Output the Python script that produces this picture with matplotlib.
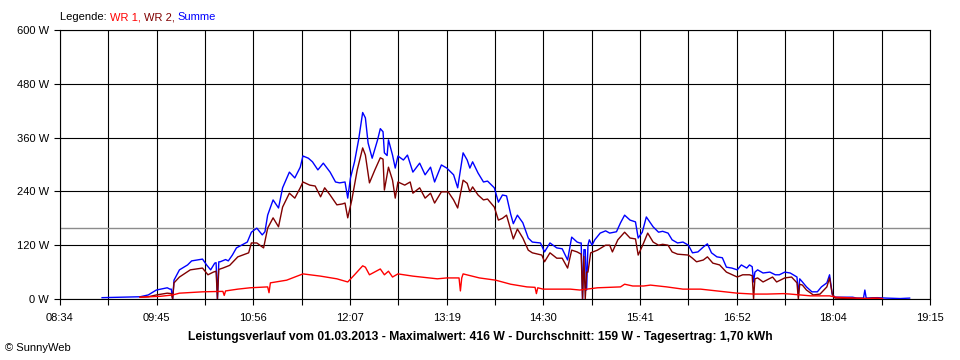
import numpy as np
import matplotlib
matplotlib.use("Agg")
import matplotlib.pyplot as plt

plt.rcParams['font.family'] = ['Liberation Sans', 'DejaVu Sans']

# Summe (blue)
summe_time = [
    "09:05", "09:18", "09:33", "09:39", "09:45", "09:53", "09:55", "09:56", "09:57", "09:58",
    "10:02", "10:08", "10:11", "10:19", "10:22", "10:25", "10:28", "10:29", "10:30", "10:31",
    "10:32", "10:36", "10:38", "10:41", "10:44", "10:52", "10:55", "10:59", "11:03", "11:05",
    "11:07", "11:11", "11:15", "11:18", "11:23", "11:27", "11:31", "11:33", "11:37", "11:40",
    "11:44", "11:48", "11:53", "11:57", "12:00", "12:04", "12:06", "12:08", "12:11", "12:14",
    "12:17", "12:19", "12:21", "12:24", "12:28", "12:30", "12:32", "12:33", "12:35", "12:36",
    "12:39", "12:41", "12:43", "12:47", "12:50", "12:54", "12:59", "13:03", "13:07", "13:10",
    "13:15", "13:19", "13:24", "13:27", "13:31", "13:34", "13:36", "13:38", "13:42", "13:46",
    "13:49", "13:54", "13:57", "14:00", "14:03", "14:06", "14:08", "14:11", "14:15", "14:19",
    "14:22", "14:28", "14:31", "14:35", "14:40", "14:44", "14:48", "14:51", "14:55", "14:57",
    "14:58", "14:59", "15:00", "15:01", "15:02", "15:03", "15:04", "15:06", "15:08", "15:12",
    "15:16", "15:19", "15:24", "15:27", "15:30", "15:34", "15:38", "15:40", "15:43", "15:46",
    "15:51", "15:55", "15:58", "16:02", "16:05", "16:09", "16:13", "16:17", "16:20", "16:24",
    "16:28", "16:31", "16:34", "16:38", "16:42", "16:45", "16:49", "16:53", "16:56", "17:00",
    "17:02", "17:04", "17:05", "17:06", "17:08", "17:12", "17:17", "17:21", "17:24", "17:28",
    "17:32", "17:37", "17:38", "17:39", "17:41", "17:44", "17:48", "17:52", "17:55", "17:59",
    "18:01", "18:03", "18:05", "18:18", "18:21", "18:26", "18:27", "18:28", "18:36", "18:43",
    "18:53", "19:00",
]
summe_w = [
    3, 4, 5, 9, 20, 25, 22, 22, 0, 42,
    65, 76, 85, 89, 76, 65, 80, 81, 0, 83,
    83, 88, 85, 98, 114, 127, 149, 158, 143, 150,
    187, 221, 203, 248, 283, 270, 294, 319, 314, 306,
    288, 303, 283, 261, 259, 261, 225, 270, 306, 355,
    416, 404, 348, 314, 355, 380, 373, 326, 320, 355,
    321, 292, 319, 310, 321, 283, 303, 277, 294, 261,
    299, 292, 277, 248, 326, 310, 292, 306, 281, 261,
    263, 248, 216, 232, 230, 190, 168, 187, 170, 136,
    127, 125, 105, 125, 114, 112, 87, 138, 127, 125,
    125, 0, 110, 110, 20, 120, 132, 120, 132, 147,
    152, 147, 150, 170, 187, 176, 172, 136, 149, 183,
    161, 149, 151, 147, 132, 125, 127, 120, 103, 105,
    116, 123, 103, 94, 92, 71, 69, 65, 76, 69,
    76, 72, 38, 60, 65, 58, 60, 54, 54, 60,
    58, 49, 10, 45, 38, 27, 16, 16, 27, 36,
    54, 10, 4, 4, 2, 2, 20, 2, 3, 2,
    1, 2,
]

# WR 2 (dark red)
wr2_time = [
    "09:33", "09:39", "09:45", "09:53", "09:56", "09:57", "09:58", "10:02", "10:10", "10:19",
    "10:23", "10:27", "10:29", "10:30", "10:31", "10:34", "10:39", "10:45", "10:53", "10:55",
    "10:59", "11:04", "11:07", "11:11", "11:15", "11:18", "11:23", "11:27", "11:31", "11:33",
    "11:38", "11:42", "11:46", "11:49", "11:53", "11:58", "12:02", "12:04", "12:06", "12:09",
    "12:13", "12:17", "12:19", "12:22", "12:26", "12:30", "12:32", "12:33", "12:36", "12:39",
    "12:41", "12:43", "12:48", "12:52", "12:54", "12:59", "13:03", "13:07", "13:10", "13:15",
    "13:20", "13:24", "13:27", "13:31", "13:34", "13:36", "13:38", "13:42", "13:46", "13:49",
    "13:54", "13:57", "14:00", "14:03", "14:06", "14:08", "14:11", "14:15", "14:19", "14:22",
    "14:29", "14:31", "14:35", "14:40", "14:44", "14:48", "14:51", "14:55", "14:58", "14:59",
    "15:00", "15:01", "15:02", "15:03", "15:05", "15:10", "15:16", "15:19", "15:21", "15:25",
    "15:30", "15:34", "15:38", "15:40", "15:44", "15:47", "15:51", "15:55", "15:58", "16:02",
    "16:05", "16:09", "16:17", "16:20", "16:23", "16:28", "16:31", "16:35", "16:40", "16:45",
    "16:53", "16:57", "17:02", "17:04", "17:05", "17:06", "17:08", "17:12", "17:19", "17:22",
    "17:28", "17:33", "17:37", "17:38", "17:39", "17:41", "17:44", "17:49", "17:54", "17:59",
    "18:01", "18:03", "18:05", "18:18", "18:29", "18:33", "18:38",
]
wr2_w = [
    4, 5, 9, 13, 12, 0, 36, 49, 65, 69,
    54, 60, 62, 0, 66, 69, 75, 94, 103, 125,
    125, 114, 158, 181, 161, 205, 236, 225, 248, 261,
    254, 252, 228, 248, 232, 210, 212, 214, 181, 221,
    288, 337, 321, 259, 288, 315, 312, 243, 294, 265,
    225, 261, 254, 261, 236, 248, 225, 236, 214, 239,
    239, 221, 203, 265, 258, 239, 250, 232, 221, 223,
    205, 176, 180, 187, 155, 134, 156, 136, 109, 103,
    98, 83, 103, 91, 91, 69, 109, 105, 100, 0,
    95, 0, 60, 60, 103, 109, 120, 120, 105, 132,
    149, 136, 134, 98, 125, 147, 127, 120, 122, 120,
    105, 100, 98, 91, 83, 87, 94, 80, 76, 60,
    49, 54, 54, 52, 0, 45, 47, 38, 49, 38,
    47, 49, 36, 0, 33, 31, 20, 9, 11, 27,
    47, 11, 2, 1, 1, 2, 1,
]

# WR 1 (red)
wr1_time = [
    "09:33", "09:48", "09:57", "10:02", "10:19", "10:34", "10:35", "10:36", "10:45", "10:54",
    "11:07", "11:08", "11:09", "11:21", "11:33", "11:46", "11:58", "12:06", "12:11", "12:17",
    "12:19", "12:22", "12:30", "12:33", "12:36", "12:39", "12:43", "12:54", "13:12", "13:19",
    "13:28", "13:29", "13:30", "13:31", "13:43", "13:55", "14:06", "14:18", "14:24", "14:25",
    "14:26", "14:30", "14:50", "14:57", "15:10", "15:27", "15:30", "15:36", "15:44", "15:49",
    "16:01", "16:13", "16:26", "16:38", "16:53", "17:05", "17:15", "17:27", "17:32", "17:47",
    "18:01", "18:06", "18:21", "18:29", "18:36", "18:40",
]
wr1_w = [
    4, 6, 9, 13, 16, 17, 8, 18, 22, 25,
    27, 14, 36, 42, 56, 51, 45, 38, 54, 74,
    71, 54, 67, 54, 62, 49, 56, 51, 45, 47,
    47, 18, 47, 56, 47, 42, 33, 27, 26, 12,
    25, 22, 22, 20, 25, 27, 33, 29, 29, 31,
    27, 22, 22, 18, 13, 11, 11, 12, 11, 7,
    7, 4, 2, 1, 2, 1,
]

y_ticks = [0, 120, 240, 360, 480, 600]
x_labels = ["08:34", "09:45", "10:56", "12:07", "13:19", "14:30",
            "15:41", "16:52", "18:04", "19:15"]
average_w = 159
title = ("Leistungsverlauf vom 01.03.2013 - Maximalwert: 416 W - "
         "Durchschnitt: 159 W - Tagesertrag: 1,70 kWh")
legend_parts = [("Legende: ", 'black'), ("WR 1, ", '#ff0000'),
                ("WR 2, ", '#800000'), ("Summe", '#0000ff')]


def to_minutes(times):
    return np.array([int(t[:2]) * 60 + int(t[3:]) for t in times], dtype=float)


fig = plt.figure(figsize=(9.6, 3.6), dpi=100)
ax = fig.add_axes([60 / 960, 1 - 299 / 360, 870 / 960, 269 / 360])

x_start = to_minutes([x_labels[0]])[0]
x_end = to_minutes([x_labels[-1]])[0]
ticks = np.linspace(x_start, x_end, 19)
ax.set_xlim(x_start, x_end)
ax.set_ylim(0, 600)

ax.set_xticks(ticks)
ax.set_xticklabels([x_labels[i // 2] if i % 2 == 0 else "" for i in range(19)])
ax.set_yticks(y_ticks)
ax.set_yticklabels([f"{v} W" for v in y_ticks])
ax.tick_params(direction='out', length=4, width=0.8, color='black', labelsize=8)
ax.tick_params(axis='x', pad=6)
ax.tick_params(axis='y', pad=4)

ax.grid(True, color='black', linewidth=0.8)
ax.set_axisbelow(True)
for s in ax.spines.values():
    s.set_color('black')
    s.set_linewidth(0.8)

ax.axhline(average_w, color='#8c8c8c', linewidth=1.0, zorder=1.5)

ax.plot(to_minutes(summe_time), summe_w, color='#0000ff', linewidth=1.0, zorder=3)
ax.plot(to_minutes(wr2_time), wr2_w, color='#800000', linewidth=1.0, zorder=4)
ax.plot(to_minutes(wr1_time), wr1_w, color='#ff0000', linewidth=1.0, zorder=5)

# legend line at top, coloured pieces chained one after another
prev = fig.text(60 / 960, 1 - 22 / 360, legend_parts[0][0], fontsize=8,
                color=legend_parts[0][1], va='bottom', ha='left')
for label, col in legend_parts[1:]:
    prev = ax.annotate(label, xy=(1, 0), xycoords=prev, fontsize=8, color=col,
                       va='bottom', ha='left', annotation_clip=False)

fig.text(0.5, 1 - 337 / 360, title, fontsize=8.7, fontweight='bold',
         ha='center', va='center')
fig.text(5 / 960, 1 - 348 / 360, "\u00a9 SunnyWeb", fontsize=8,
         ha='left', va='center')

fig.savefig("out.png", dpi=100)
